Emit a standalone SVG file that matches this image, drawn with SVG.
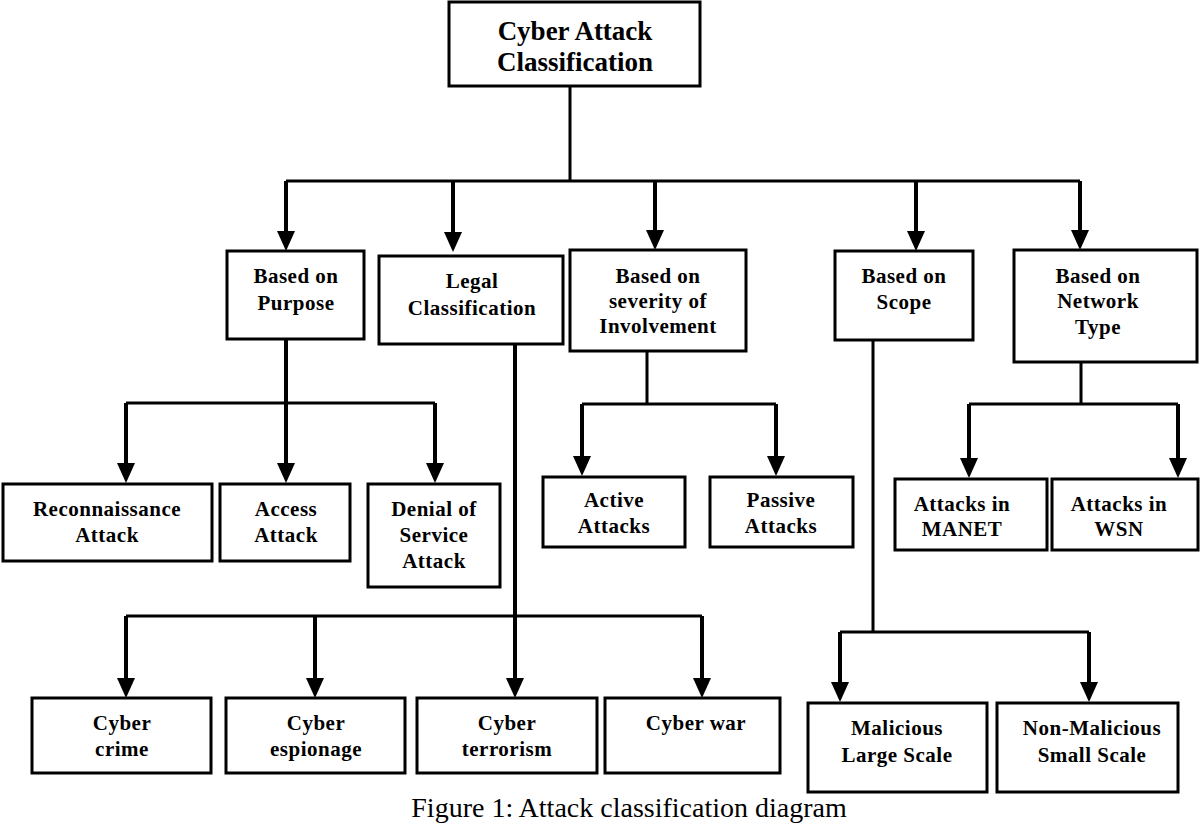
<svg xmlns="http://www.w3.org/2000/svg" width="1200" height="824" viewBox="0 0 1200 824">
<style>
.box{fill:#fff;stroke:#000;stroke-width:3}
.t{font-family:"Liberation Serif","Times New Roman",serif;font-weight:bold;font-size:21px;letter-spacing:0.5px;text-anchor:middle;fill:#000}
.root{font-size:27px;letter-spacing:0}
.cap{font-family:"Liberation Serif","Times New Roman",serif;font-size:28px;text-anchor:middle;fill:#000}
.ln{fill:none;stroke:#000;stroke-width:3}
.ar{fill:none;stroke:#000;stroke-width:4;marker-end:url(#ah)}
</style>
<defs>
<marker id="ah" markerUnits="userSpaceOnUse" markerWidth="20" markerHeight="18" viewBox="0 0 20 18" refX="10" refY="9" orient="auto">
<path d="M0,0 L20,9 L0,18 Z" fill="#000"/>
</marker>
</defs>
<g id="connectors">
<path class="ln" d="M570,86 V181 M286,181 H1080"/>
<path class="ar" d="M286,181 V241"/>
<path class="ar" d="M453,181 V242"/>
<path class="ar" d="M655,181 V240"/>
<path class="ar" d="M916,181 V241"/>
<path class="ar" d="M1080,181 V240"/>
<path class="ln" d="M126,403 H435"/>
<path class="ar" d="M286,339 V473"/>
<path class="ar" d="M126,403 V473"/>
<path class="ar" d="M435,403 V473"/>
<path class="ln" d="M126,616 H702"/>
<path class="ar" d="M515,344 V688"/>
<path class="ar" d="M126,616 V688"/>
<path class="ar" d="M315,616 V688"/>
<path class="ar" d="M702,616 V688"/>
<path class="ln" d="M647,351 V404 M582,404 H776"/>
<path class="ar" d="M582,404 V466"/>
<path class="ar" d="M776,404 V466"/>
<path class="ln" d="M873,340 V632 M840,632 H1089"/>
<path class="ar" d="M840,632 V692"/>
<path class="ar" d="M1089,632 V692"/>
<path class="ln" d="M1081,362 V404 M969,404 H1178"/>
<path class="ar" d="M969,404 V468"/>
<path class="ar" d="M1178,404 V468"/>
</g>
<g id="root"><rect class="box" x="449" y="2" width="251" height="84"/><text class="t root" x="575" y="40">Cyber Attack</text><text class="t root" x="575" y="71">Classification</text></g>
<g id="purpose"><rect class="box" x="227" y="251" width="137" height="88"/><text class="t" x="296" y="283">Based on</text><text class="t" x="296" y="310">Purpose</text></g>
<g id="legal"><rect class="box" x="379" y="256" width="184" height="88"/><text class="t" x="472" y="288">Legal</text><text class="t" x="472" y="315">Classification</text></g>
<g id="severity"><rect class="box" x="570" y="250" width="176" height="101"/><text class="t" x="658" y="283">Based on</text><text class="t" x="658" y="308">severity of</text><text class="t" x="658" y="333">Involvement</text></g>
<g id="scope"><rect class="box" x="835" y="251" width="138" height="89"/><text class="t" x="904" y="283">Based on</text><text class="t" x="904" y="309">Scope</text></g>
<g id="network"><rect class="box" x="1014" y="250" width="183" height="112"/><text class="t" x="1098" y="283">Based on</text><text class="t" x="1098" y="308">Network</text><text class="t" x="1098" y="334">Type</text></g>
<g id="recon"><rect class="box" x="3" y="484" width="209" height="77"/><text class="t" x="107" y="516">Reconnaissance</text><text class="t" x="107" y="542">Attack</text></g>
<g id="access"><rect class="box" x="220" y="484" width="130" height="77"/><text class="t" x="286" y="516">Access</text><text class="t" x="286" y="542">Attack</text></g>
<g id="denial"><rect class="box" x="368" y="484" width="132" height="103"/><text class="t" x="434" y="516">Denial of</text><text class="t" x="434" y="542">Service</text><text class="t" x="434" y="568">Attack</text></g>
<g id="active"><rect class="box" x="543" y="477" width="142" height="70"/><text class="t" x="614" y="507">Active</text><text class="t" x="614" y="533">Attacks</text></g>
<g id="passive"><rect class="box" x="710" y="477" width="143" height="70"/><text class="t" x="781" y="507">Passive</text><text class="t" x="781" y="533">Attacks</text></g>
<g id="manet"><rect class="box" x="895" y="479" width="152" height="71"/><text class="t" x="962" y="511">Attacks in</text><text class="t" x="962" y="536">MANET</text></g>
<g id="wsn"><rect class="box" x="1052" y="479" width="146" height="71"/><text class="t" x="1119" y="511">Attacks in</text><text class="t" x="1119" y="536">WSN</text></g>
<g id="crime"><rect class="box" x="32" y="698" width="179" height="75"/><text class="t" x="122" y="730">Cyber</text><text class="t" x="122" y="756">crime</text></g>
<g id="espionage"><rect class="box" x="226" y="698" width="179" height="75"/><text class="t" x="316" y="730">Cyber</text><text class="t" x="316" y="756">espionage</text></g>
<g id="terrorism"><rect class="box" x="417" y="698" width="180" height="75"/><text class="t" x="507" y="730">Cyber</text><text class="t" x="507" y="756">terrorism</text></g>
<g id="war"><rect class="box" x="605" y="698" width="175" height="75"/><text class="t" x="696" y="730">Cyber war</text></g>
<g id="malicious"><rect class="box" x="808" y="703" width="179" height="89"/><text class="t" x="897" y="735">Malicious</text><text class="t" x="897" y="762">Large Scale</text></g>
<g id="nonmalicious"><rect class="box" x="997" y="703" width="181" height="89"/><text class="t" x="1092" y="735">Non-Malicious</text><text class="t" x="1092" y="762">Small Scale</text></g>
<text class="cap" x="629" y="817">Figure 1: Attack classification diagram</text>
</svg>
